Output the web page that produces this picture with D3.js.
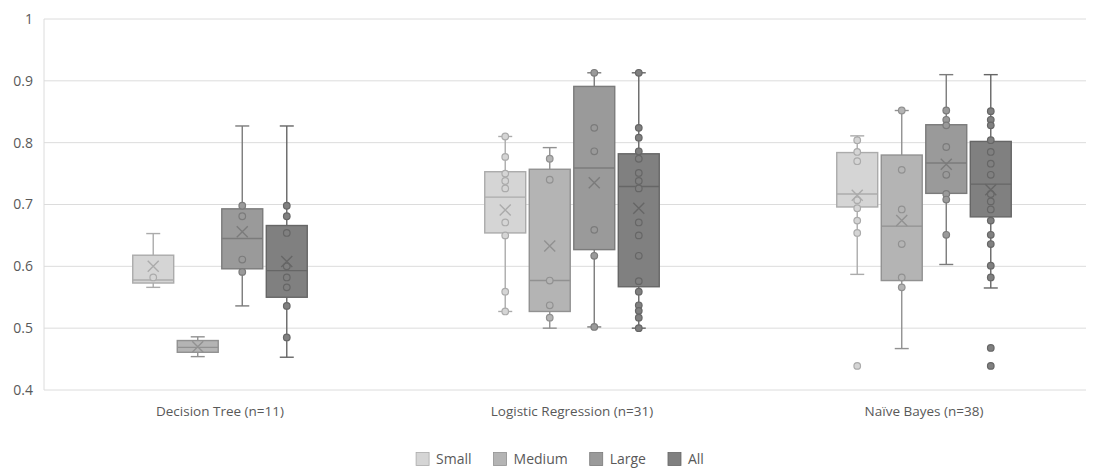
<!DOCTYPE html>
<html>
<head>
<meta charset="utf-8">
<script src="https://cdn.jsdelivr.net/npm/d3@7"></script>
<style>
  html, body { margin: 0; padding: 0; background: #fff; }
  svg { display: block; font-family: "Open Sans", "Noto Sans", sans-serif; }
</style>
</head>
<body>
<svg id="chart" width="1097" height="468"></svg>
<script>
// Model accuracy by data-set size, grouped by classifier
const categories = ["Decision Tree (n=11)", "Logistic Regression (n=31)", "Naïve Bayes (n=38)"];
const seriesNames = ["Small", "Medium", "Large", "All"];
const yTicks = [0.4, 0.5, 0.6, 0.7, 0.8, 0.9, 1];

// Box statistics per category: [lower whisker, Q1, median, Q3, upper whisker, mean]
const boxSmall = [
  [0.566, 0.573, 0.578, 0.618, 0.653, 0.600],
  [0.527, 0.654, 0.712, 0.753, 0.810, 0.691],
  [0.587, 0.696, 0.717, 0.784, 0.811, 0.715]
];
const boxMedium = [
  [0.454, 0.461, 0.469, 0.480, 0.486, 0.470],
  [0.500, 0.527, 0.577, 0.757, 0.792, 0.633],
  [0.467, 0.577, 0.665, 0.780, 0.852, 0.674]
];
const boxLarge = [
  [0.536, 0.596, 0.645, 0.693, 0.827, 0.656],
  [0.502, 0.627, 0.759, 0.891, 0.913, 0.735],
  [0.603, 0.718, 0.767, 0.829, 0.910, 0.765]
];
const boxAll = [
  [0.453, 0.550, 0.593, 0.666, 0.827, 0.608],
  [0.500, 0.567, 0.729, 0.782, 0.913, 0.694],
  [0.565, 0.680, 0.733, 0.802, 0.910, 0.724]
];

// Individual observations per category
const pointsSmall = [
  [0.582],
  [0.810, 0.777, 0.750, 0.738, 0.726, 0.671, 0.650, 0.559, 0.527],
  [0.804, 0.785, 0.770, 0.707, 0.694, 0.674, 0.654, 0.439]
];
const pointsMedium = [
  [],
  [0.774, 0.740, 0.577, 0.537, 0.517],
  [0.852, 0.756, 0.692, 0.636, 0.582, 0.566]
];
const pointsLarge = [
  [0.698, 0.681, 0.611, 0.591],
  [0.913, 0.824, 0.786, 0.659, 0.617, 0.502],
  [0.852, 0.837, 0.828, 0.793, 0.748, 0.717, 0.708, 0.651]
];
const pointsAll = [
  [0.698, 0.681, 0.654, 0.600, 0.582, 0.566, 0.536, 0.485],
  [0.913, 0.824, 0.808, 0.786, 0.774, 0.751, 0.738, 0.726, 0.671, 0.650, 0.617, 0.576, 0.559, 0.537, 0.528, 0.517, 0.500],
  [0.851, 0.837, 0.828, 0.804, 0.785, 0.766, 0.748, 0.717, 0.705, 0.692, 0.674, 0.651, 0.636, 0.601, 0.582, 0.468, 0.439]
];

const boxes = [boxSmall, boxMedium, boxLarge, boxAll];
const points = [pointsSmall, pointsMedium, pointsLarge, pointsAll];
const fills = ["#d5d5d5", "#b4b4b4", "#9a9a9a", "#808080"];
const strokes = ["#ababab", "#919191", "#7b7b7b", "#666666"];

const svg = d3.select("#chart");
const plot = { left: 44, right: 1100, top: 19, bottom: 390, gridRight: 1086 };
const textColor = "#595959";

const y = d3.scaleLinear().domain([0.4, 1]).range([plot.bottom, plot.top]);
const x = d3.scaleBand().domain(categories).range([plot.left, plot.right]);
const groupWidth = 174.5;
const xs = d3.scaleBand().domain(seriesNames).range([0, groupWidth]).paddingInner(0.08);

// Gridlines
svg.append("g")
  .selectAll("line")
  .data(yTicks)
  .join("line")
  .attr("x1", plot.left).attr("x2", plot.gridRight)
  .attr("y1", d => y(d)).attr("y2", d => y(d))
  .attr("stroke", "#dcdcdc").attr("stroke-width", 1);

svg.append("line")
  .attr("x1", plot.left).attr("x2", plot.left)
  .attr("y1", y(1)).attr("y2", y(0.4))
  .attr("stroke", "#dcdcdc");

// Y axis labels
const yAxis = d3.axisLeft(y).tickValues(yTicks).tickSize(0).tickPadding(11)
  .tickFormat(d => d3.format("")(+d.toFixed(1)));
svg.append("g")
  .attr("transform", `translate(${plot.left},0)`)
  .call(yAxis)
  .call(g => g.select(".domain").remove())
  .call(g => g.selectAll("text").attr("fill", textColor).attr("font-size", 14)
    .style("font-family", "'Open Sans', 'Noto Sans', sans-serif"));

// X axis labels
const xAxis = d3.axisBottom(x).tickSize(0).tickPadding(16);
svg.append("g")
  .attr("transform", `translate(0,${plot.bottom})`)
  .call(xAxis)
  .call(g => g.select(".domain").remove())
  .call(g => g.selectAll("text").attr("fill", textColor).attr("font-size", 13.5)
    .style("font-family", "'Open Sans', 'Noto Sans', sans-serif"));

// Box plots
const bw = xs.bandwidth();
const capW = 14;
seriesNames.forEach((s, si) => {
  const g = svg.append("g");
  categories.forEach((c, ci) => {
    const [lo, q1, med, q3, hi, mean] = boxes[si][ci];
    const x0 = x(c) + (x.bandwidth() - groupWidth) / 2 + xs(s);
    const cx = x0 + bw / 2;
    const st = strokes[si];

    // whiskers
    g.append("line").attr("x1", cx).attr("x2", cx).attr("y1", y(hi)).attr("y2", y(q3))
      .attr("stroke", st).attr("stroke-width", 1.4);
    g.append("line").attr("x1", cx).attr("x2", cx).attr("y1", y(q1)).attr("y2", y(lo))
      .attr("stroke", st).attr("stroke-width", 1.4);
    [hi, lo].forEach(v => {
      g.append("line").attr("x1", cx - capW / 2).attr("x2", cx + capW / 2)
        .attr("y1", y(v)).attr("y2", y(v)).attr("stroke", st).attr("stroke-width", 1.4);
    });

    // box
    g.append("rect").attr("x", x0).attr("y", y(q3)).attr("width", bw).attr("height", y(q1) - y(q3))
      .attr("fill", fills[si]).attr("stroke", st).attr("stroke-width", 1.4);

    // median
    g.append("line").attr("x1", x0).attr("x2", x0 + bw).attr("y1", y(med)).attr("y2", y(med))
      .attr("stroke", st).attr("stroke-width", 1.4);

    // observations
    g.selectAll(null).data(points[si][ci]).join("circle")
      .attr("cx", cx).attr("cy", d => y(d)).attr("r", 3.3)
      .attr("fill", fills[si]).attr("stroke", st).attr("stroke-width", 1.2);

    // mean marker
    const my = y(mean), m = 5.5;
    g.append("path")
      .attr("d", `M${cx - m},${my - m}L${cx + m},${my + m}M${cx - m},${my + m}L${cx + m},${my - m}`)
      .attr("stroke", st).attr("stroke-width", 1.4).attr("fill", "none");
  });
});

// Legend
const legend = svg.append("g").attr("transform", "translate(0,459)");
const items = [];
seriesNames.forEach((s, i) => {
  const item = legend.append("g");
  item.append("rect").attr("x", 0).attr("y", -6.5).attr("width", 13).attr("height", 13)
    .attr("fill", fills[i]).attr("stroke", strokes[i]).attr("stroke-width", 0.8);
  const t = item.append("text").attr("x", 20).attr("y", 0).attr("dy", "0.35em")
    .attr("fill", textColor).attr("font-size", 14).text(s);
  const w = 20 + t.node().getComputedTextLength();
  items.push({ item, w });
});
const gap = 22;
const total = d3.sum(items, d => d.w) + gap * (items.length - 1);
let lx = 560 - total / 2;
items.forEach(d => {
  d.item.attr("transform", `translate(${lx},0)`);
  lx += d.w + gap;
});
</script>
</body>
</html>
